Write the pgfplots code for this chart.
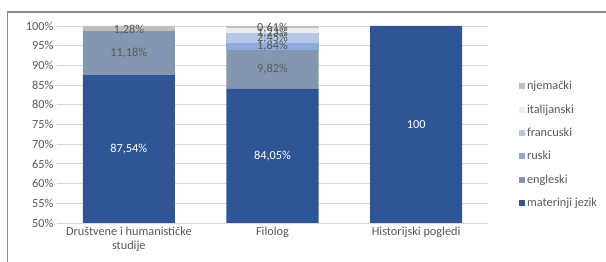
\documentclass[border=0pt]{standalone}
\usepackage{pgfplots}
\pgfplotsset{compat=1.18}
\usepackage{fontspec}
\setmainfont{Carlito}
\definecolor{cmat}{HTML}{2F5597}
\definecolor{ceng}{HTML}{8497B0}
\definecolor{crus}{HTML}{8FAADC}
\definecolor{cfra}{HTML}{B4C7E7}
\definecolor{cita}{HTML}{EDEDED}
\definecolor{cnje}{HTML}{BFBFBF}
\definecolor{ctxt}{HTML}{595959}
\definecolor{cgrid}{HTML}{D9D9D9}
\newcommand{\lf}{\fontsize{12.3}{14}\selectfont}
\begin{document}
\begin{tikzpicture}
\useasboundingbox (0pt,0pt) rectangle (606pt,262pt);
\draw[color=gray!90,line width=1.2pt] (7pt,250pt) -- (606pt,250pt);
\draw[color=gray!90,line width=0.8pt] (7pt,250pt) -- (7pt,0pt);
\begin{axis}[
  at={(57pt,39pt)}, anchor=south west,
  scale only axis, width=431pt, height=197pt,
  ybar stacked, bar width=92pt,
  xmin=-0.5, xmax=2.5, ymin=50, ymax=100,
  xtick={0,1,2},
  xticklabels={{Društvene i humanističke\\studije},Filolog,Historijski pogledi},
  xticklabel style={align=center, font=\lf, text=ctxt},
  ytick={50,55,...,100},
  yticklabel={\pgfmathprintnumber{\tick}\%},
  yticklabel style={font=\lf, text=ctxt},
  /pgf/number format/assume math mode=true,
  ymajorgrids, grid style={cgrid, line width=0.8pt},
  axis line style={draw=none},
  major tick length=0pt,
  tick style={draw=none},
  reverse legend,
  legend style={at={(1.072,0.73)}, anchor=north west, draw=none, fill=none,
    font=\lf, text=ctxt, row sep=9.3pt,
    inner sep=0pt, outer sep=0pt},
  legend cell align=left,
  legend image code/.code={\fill[#1] (0pt,-3pt) rectangle (6pt,3pt);},
  after end axis/.code={
    \node[text=white,font=\lf] at (axis cs:0,68.77) {87,54\%};
    \node[text=ctxt,font=\lf] at (axis cs:0,93.13) {11,18\%};
    \node[text=ctxt,font=\lf] at (axis cs:0,98.9) {1,28\%};
    \node[text=white,font=\lf] at (axis cs:1,67.03) {84,05\%};
    \node[text=ctxt,font=\lf] at (axis cs:1,88.96) {9,82\%};
    \node[text=ctxt,font=\lf] at (axis cs:1,94.85) {1,84\%};
    \node[text=ctxt,font=\lf] at (axis cs:1,96.94) {2,45\%};
    \node[text=ctxt,font=\lf] at (axis cs:1,98.3) {1,23\%};
    \node[text=ctxt,font=\lf] at (axis cs:1,99.5) {0,61\%};
    \node[text=white,font=\lf] at (axis cs:2,75) {100};
  },
]
\addplot[fill=cmat, draw=none] coordinates {(0,87.54) (1,84.05) (2,100)};
\addplot[fill=ceng, draw=none] coordinates {(0,11.18) (1,9.82) (2,0)};
\addplot[fill=crus, draw=none] coordinates {(0,0) (1,1.84) (2,0)};
\addplot[fill=cfra, draw=none] coordinates {(0,0) (1,2.45) (2,0)};
\addplot[fill=cita, draw=none] coordinates {(0,0) (1,1.23) (2,0)};
\addplot[fill=cnje, draw=none] coordinates {(0,1.28) (1,0.61) (2,0)};
\legend{materinji jezik,engleski,ruski,francuski,italijanski,njemački}
\end{axis}
\end{tikzpicture}
\end{document}
